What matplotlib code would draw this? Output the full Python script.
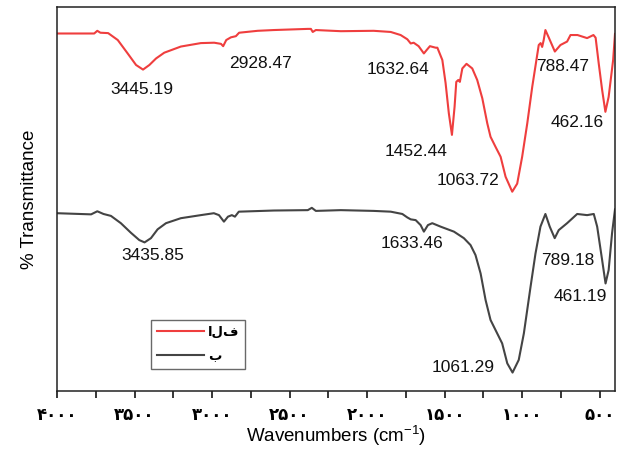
import numpy as np
import matplotlib.pyplot as plt

plt.rcParams['font.family'] = ['Liberation Sans', 'DejaVu Sans']
plt.rcParams['mathtext.fontset'] = 'custom'
plt.rcParams['mathtext.rm'] = 'Liberation Sans'
plt.rcParams['mathtext.it'] = 'Liberation Sans:italic'

# spectrum (a) - red, upper trace
wn_a = [4000, 3760, 3740, 3720, 3670, 3608, 3544, 3490, 3445, 3404, 3361, 3308, 3201, 3072,
        2986, 2942, 2928, 2908, 2878, 2846, 2825, 2706, 2601, 2382, 2362, 2350, 2330, 2169,
        1957, 1847, 1783, 1740, 1718, 1699, 1667, 1633, 1615, 1594, 1557, 1546, 1514, 1493,
        1472, 1452, 1435, 1424, 1411, 1401, 1385, 1358, 1321, 1289, 1256, 1224, 1203, 1171,
        1138, 1106, 1063, 1031, 999, 966, 934, 907, 892, 880, 870, 860, 849, 829, 788, 752,
        709, 687, 642, 580, 539, 525, 505, 483, 462, 441, 412, 400]
t_a = [93.1, 93.1, 93.8, 93.3, 93.2, 91.4, 87.9, 84.9, 83.7, 84.9, 86.6, 88.1, 89.7, 90.6,
       90.7, 90.4, 89.8, 91.4, 92.1, 92.4, 93.3, 93.8, 94.0, 94.3, 94.3, 93.5, 94.0, 93.7,
       93.8, 93.5, 92.7, 91.6, 90.5, 90.7, 89.8, 87.9, 88.8, 89.8, 89.4, 89.4, 86.2, 80.2,
       72.3, 66.7, 74.0, 80.5, 81.0, 80.5, 84.0, 85.2, 84.0, 81.0, 76.2, 69.7, 66.2, 63.6,
       61.0, 55.8, 51.9, 54.0, 61.0, 69.7, 79.2, 86.2, 90.1, 90.6, 89.6, 91.4, 94.0, 92.2,
       88.4, 90.1, 91.0, 92.7, 92.7, 91.9, 92.7, 92.0, 85.3, 78.4, 72.7, 76.6, 86.2, 93.0]

# spectrum (b) - dark gray, lower trace
wn_b = [4000, 3780, 3740, 3700, 3652, 3588, 3523, 3469, 3435, 3394, 3351, 3297, 3201, 3072,
        2988, 2955, 2923, 2897, 2872, 2852, 2827, 2601, 2382, 2356, 2330, 2169, 1957, 1847,
        1772, 1740, 1718, 1686, 1654, 1633, 1607, 1579, 1525, 1439, 1375, 1332, 1300, 1267,
        1235, 1203, 1160, 1128, 1095, 1061, 1021, 988, 945, 913, 881, 849, 821, 789, 763,
        709, 644, 580, 537, 515, 483, 461, 441, 419, 400]
t_b = [46.3, 46.0, 46.8, 46.1, 45.6, 43.7, 41.2, 39.3, 38.7, 39.8, 42.1, 43.7, 45.0, 45.8,
       46.3, 45.8, 44.1, 45.4, 45.8, 45.4, 46.7, 47.0, 47.1, 47.7, 46.9, 47.1, 46.9, 46.7,
       46.1, 45.2, 44.7, 44.5, 43.2, 41.5, 43.2, 43.7, 42.8, 41.5, 39.8, 38.0, 35.4, 30.6,
       23.7, 18.5, 15.0, 12.4, 7.2, 4.8, 8.1, 15.0, 27.1, 35.8, 42.8, 46.1, 42.8, 39.8, 41.9,
       43.7, 46.1, 45.8, 46.1, 42.8, 34.1, 28.0, 31.5, 41.1, 47.3]

peak_labels_a = ['3445.19', '2928.47', '1632.64', '1452.44', '1063.72', '788.47', '462.16']
peak_pos_a = [(3451, 78.6), (2685, 85.4), (1802, 83.6), (1686, 62.5), (1351, 54.7),
              (739, 84.6), (642, 70.0)]
peak_labels_b = ['3435.85', '1633.46', '789.18', '461.19', '1061.29']
peak_pos_b = [(3380, 35.4), (1712, 38.3), (707, 34.1), (623, 24.7), (1377, 6.2)]

series_names = ['الف', 'ب']
tick_values = [4000, 3500, 3000, 2500, 2000, 1500, 1000, 500]
tick_text = ['۴۰۰۰', '۳۵۰۰', '۳۰۰۰', '۲۵۰۰', '۲۰۰۰', '۱۵۰۰', '۱۰۰۰', '۵۰۰']

fig = plt.figure(figsize=(6.22, 4.5), dpi=100)
ax = fig.add_axes([57 / 622, 1 - 391 / 450, 558 / 622, 384 / 450])

ax.plot(wn_a, t_a, color='#ef3e3e', lw=1.5, label=series_names[0])
ax.plot(wn_b, t_b, color='#444444', lw=1.5, label=series_names[1])

for txt, (x, y) in zip(peak_labels_a + peak_labels_b, peak_pos_a + peak_pos_b):
    ax.text(x, y, txt, ha='center', va='center', fontsize=12.5, color='#111111')

ax.set_xlim(4000, 400)
ax.set_ylim(0, 100)
ax.set_xticks(tick_values)
ax.set_xticklabels(tick_text, family=['DejaVu Sans'], fontweight='bold', fontsize=12)
ax.set_xticks(np.arange(3750, 400, -500), minor=True)
ax.set_yticks([])
ax.tick_params(axis='x', which='both', direction='out', length=5, width=1.1, pad=6)
for s in ax.spines.values():
    s.set_linewidth(1.1)
    s.set_color('#222222')

ax.set_xlabel('Wavenumbers (cm$^{-1}$)', fontsize=13.5, labelpad=0)
ax.set_ylabel('% Transmittance', fontsize=13.5, labelpad=14)

leg = ax.legend(loc='lower left', bbox_to_anchor=(0.168, 0.058), frameon=True, fancybox=False,
                prop={'family': ['DejaVu Sans'], 'weight': 'bold', 'size': 9.5},
                handlelength=3.6, labelspacing=0.85, borderpad=0.45, handletextpad=0.3,
                borderaxespad=0)
leg.get_frame().set_edgecolor('#444444')
leg.get_frame().set_linewidth(1.0)

fig.savefig('out.png', dpi=100)
